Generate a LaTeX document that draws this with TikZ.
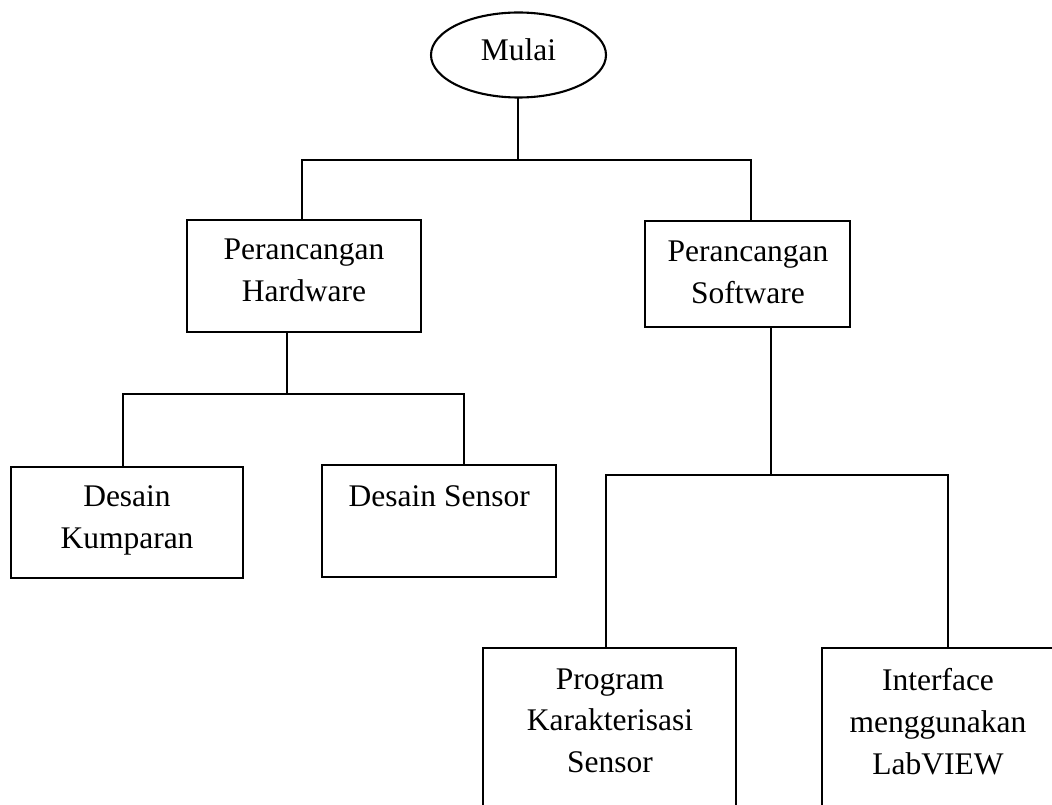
\documentclass[tikz,border=0pt]{standalone}
\usepackage{fontspec}
\setmainfont{Liberation Serif}
\usetikzlibrary{shapes.geometric}

\tikzset{
  line/.style={line width=2.1pt, line cap=rect},
  stepbox/.style={draw, line width=2.1pt, rectangle, inner sep=0pt},
  startnode/.style={draw, line width=2.1pt, ellipse, inner sep=0pt,
    minimum width=175pt, minimum height=85pt},
  lbl/.style={inner sep=0pt, align=center,
    font=\fontsize{31.5}{41.7}\selectfont},
}

\begin{document}
\begin{tikzpicture}[x=1pt, y=-1pt]
  \useasboundingbox (0,0) rectangle (1052,805);
  \clip (0,0) rectangle (1052,805);

  % start
  \node[startnode] (mulai) at (518.5,55) {};
  \node[lbl, anchor=base] (mulaiT) at (518.5,61) {Mulai};

  % second level
  \node[stepbox, minimum width=233.4pt, minimum height=111.7pt] (hw) at (304,275.9) {};
  \node[lbl, anchor=north] (hwT) at (304,239.1) {Perancangan\\Hardware};
  \node[stepbox, minimum width=205pt, minimum height=106pt] (sw) at (747.5,273.7) {};
  \node[lbl, anchor=north] (swT) at (748,240.8) {Perancangan\\Software};

  % hardware branch
  \node[stepbox, minimum width=232.6pt, minimum height=111.6pt] (kum) at (127,522.5) {};
  \node[lbl, anchor=north] (kumT) at (127,485.8) {Desain\\Kumparan};
  \node[stepbox, minimum width=233.4pt, minimum height=111.7pt] (sen) at (439,520.8) {};
  \node[lbl, anchor=north] (senT) at (439.2,485.8) {Desain Sensor};

  % software branch
  \node[stepbox, minimum width=252.4pt, minimum height=231.7pt] (prg) at (609.5,764.2) {};
  \node[lbl, anchor=north] (prgT) at (610,668.4) {Program\\Karakterisasi\\Sensor};
  \node[stepbox, minimum width=238.3pt, minimum height=231.7pt] (itf) at (940.9,764.2) {};
  \node[lbl, anchor=north] (itfT) at (938,668.4) {Interface\\menggunakan\\LabVIEW};

  % junction points
  \coordinate (j0) at (518,160);
  \coordinate (t1) at (301.7,160);
  \coordinate (t2) at (751,160);
  \coordinate (h0) at (286.7,394);
  \coordinate (h1) at (122.7,394);
  \coordinate (h2) at (464,394);
  \coordinate (s0) at (770.7,475);
  \coordinate (s1) at (606,475);
  \coordinate (s2) at (948.3,475);

  % connectors
  \draw[line] (mulai.south -| j0) -- (j0);
  \draw[line] (t1) -- (t2);
  \draw[line] (t1) -- (t1 |- hw.north);
  \draw[line] (t2) -- (t2 |- sw.north);

  \draw[line] (h0 |- hw.south) -- (h0);
  \draw[line] (h1) -- (h2);
  \draw[line] (h1) -- (h1 |- kum.north);
  \draw[line] (h2) -- (h2 |- sen.north);

  \draw[line] (s0 |- sw.south) -- (s0);
  \draw[line] (s1) -- (s2);
  \draw[line] (s1) -- (s1 |- prg.north);
  \draw[line] (s2) -- (s2 |- itf.north);
\end{tikzpicture}
\end{document}
